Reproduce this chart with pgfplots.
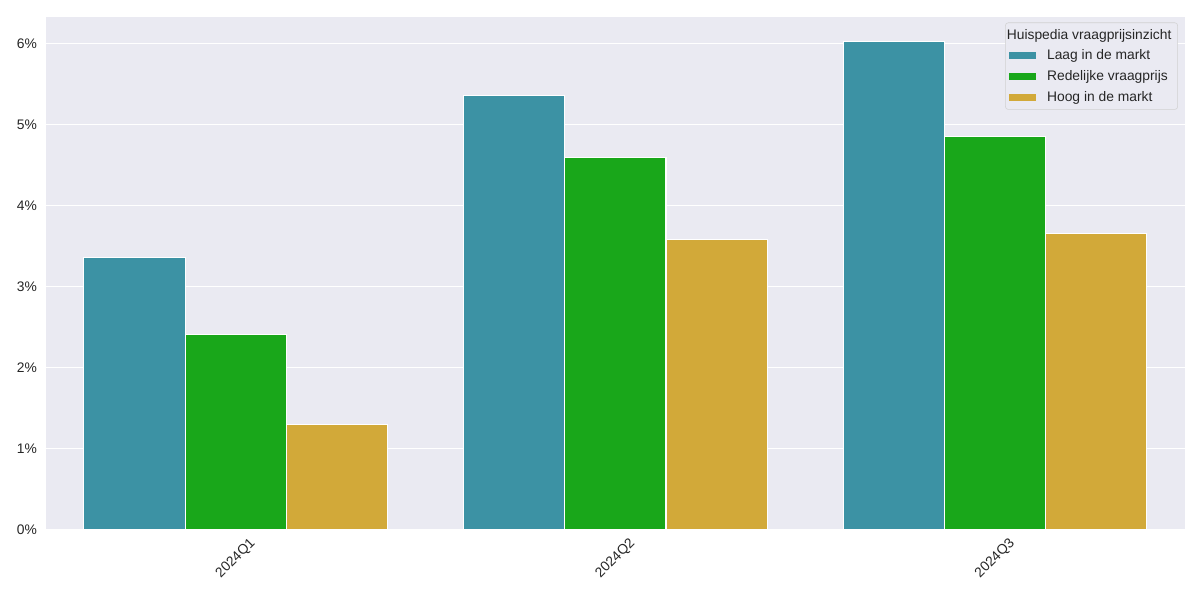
\documentclass[border=0pt]{standalone}
\usepackage{fontspec}
\setmainfont{Liberation Sans}
\usepackage{pgfplots}
\pgfplotsset{compat=1.18}
\definecolor{bgax}{HTML}{EAEAF2}
\definecolor{cLaag}{HTML}{3C92A4}
\definecolor{cRed}{HTML}{19A71A}
\definecolor{cHoog}{HTML}{D2A939}
\definecolor{txt}{HTML}{262626}

\begin{document}
\begin{tikzpicture}
\useasboundingbox[fill=white] (0,0) rectangle (864bp,432bp);
\begin{axis}[
    at={(33.1bp,50.4bp)},
    anchor=south west,
    scale only axis,
    width=820bp,
    height=369bp,
    axis background/.style={fill=bgax},
    axis line style={draw=none},
    major tick length=0pt,
    ymajorgrids=true,
    grid style={white, line width=0.8bp},
    ybar=0pt,
    bar width=0.2667,
    xmin=-0.5, xmax=2.5,
    ymin=0, ymax=6.32,
    xtick={0,1,2},
    xticklabels={2024Q1,2024Q2,2024Q3},
    ytick={0,1,2,3,4,5,6},
    yticklabels={0\%,1\%,2\%,3\%,4\%,5\%,6\%},
    tick label style={font=\fontsize{10}{12}\selectfont, text=txt},
    xticklabel style={rotate=45, anchor=center},
    xticklabel shift=20.5bp,
    yticklabel style={xshift=-3bp},
    legend style={at={(1,1)}, anchor=north east, xshift=-5bp, yshift=-3.6bp,
        fill=bgax, draw=black!18, rounded corners=2bp,
        font=\fontsize{10}{12}\selectfont, text=txt,
        row sep=2.2bp, inner sep=2.5bp,
        /tikz/every odd column/.append style={column sep=6bp}},
    legend cell align=left,
    legend image code/.code={\draw[#1, draw=none, sharp corners] (0bp,-2.6bp) rectangle (19.5bp,2.6bp);},
]
\addlegendimage{empty legend}
\addlegendentry{\hspace{-29bp}Huispedia vraagprijsinzicht}

\addplot[fill=cLaag, draw=white, line width=0.8bp]
    coordinates {(0,3.363) (1,5.360) (2,6.025)};
\addlegendentry{Laag in de markt}

\addplot[fill=cRed, draw=white, line width=0.8bp]
    coordinates {(0,2.415) (1,4.595) (2,4.854)};
\addlegendentry{Redelijke vraagprijs}

\addplot[fill=cHoog, draw=white, line width=0.8bp]
    coordinates {(0,1.306) (1,3.585) (2,3.659)};
\addlegendentry{Hoog in de markt}
\end{axis}
\end{tikzpicture}
\end{document}
